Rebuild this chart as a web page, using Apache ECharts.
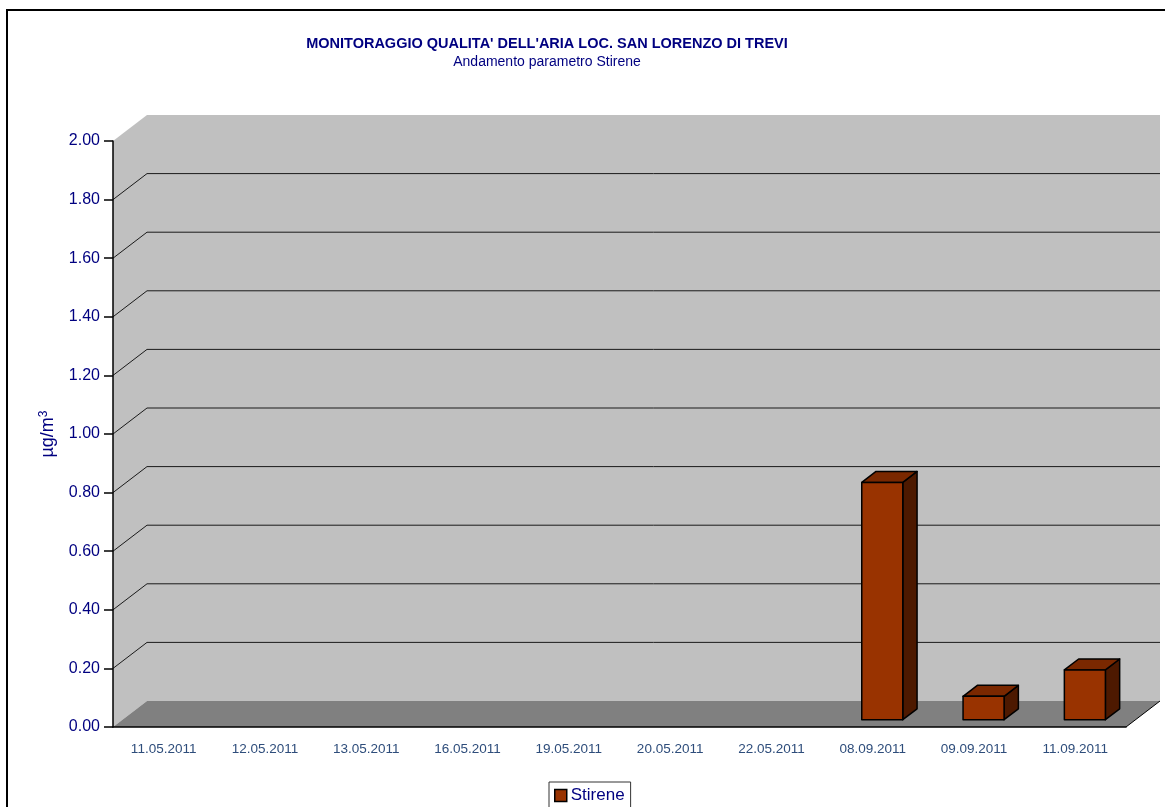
<!DOCTYPE html>
<html>
<head>
<meta charset="utf-8">
<title>Stirene</title>
<script src="https://cdn.jsdelivr.net/npm/echarts@6/dist/echarts.min.js"></script>
<style>
  html, body { margin: 0; padding: 0; background: #fff; }
  #chart { width: 1165px; height: 807px; }
</style>
</head>
<body>
<div id="chart"></div>
<script>
// data
const dates = ['11.05.2011', '12.05.2011', '13.05.2011', '16.05.2011', '19.05.2011',
  '20.05.2011', '22.05.2011', '08.09.2011', '09.09.2011', '11.09.2011']
const stirene = [null, null, null, null, null, null, null, 0.81, 0.08, 0.17]
const gridValues = [0.2, 0.4, 0.6, 0.8, 1.0, 1.2, 1.4, 1.6, 1.8]

// 3d depth of the plot (px)
const DX = 34
const DY = -26
const F1 = 0.28
const F2 = 0.7

const font = 'Liberation Sans, Arial, sans-serif'
const navy = '#000080'

const chart = echarts.init(document.getElementById('chart'))

function wallItem(params, api) {
  const cs = params.coordSys
  const x0 = cs.x, x1 = cs.x + cs.width
  const yT = cs.y, yB = cs.y + cs.height
  return {
    type: 'group',
    children: [
      {
        type: 'rect',
        shape: { x: x0 + DX, y: yT + DY, width: cs.width, height: cs.height },
        style: { fill: '#c0c0c0' }
      },
      {
        type: 'polygon',
        shape: { points: [[x0, yT], [x0 + DX, yT + DY], [x0 + DX, yB + DY], [x0, yB]] },
        style: { fill: '#c0c0c0' }
      },
      {
        type: 'polygon',
        shape: { points: [[x0, yB], [x0 + DX, yB + DY], [x1 + DX, yB + DY], [x1, yB]] },
        style: { fill: '#808080' }
      },
      {
        type: 'line',
        shape: { x1: x1, y1: yB, x2: x1 + DX, y2: yB + DY },
        style: { stroke: '#000', lineWidth: 1 }
      }
    ]
  }
}

function gridItem(params, api) {
  const cs = params.coordSys
  const y = api.coord([0, api.value(0)])[1]
  return {
    type: 'polyline',
    shape: { points: [[cs.x, y], [cs.x + DX, y + DY], [cs.x + cs.width + DX, y + DY]] },
    style: { stroke: '#1a1a1a', lineWidth: 1, fill: null }
  }
}

function barItem(params, api) {
  const v = api.value(1)
  if (v == null || isNaN(v)) return
  const top = api.coord([api.value(0), v])
  const base = api.coord([api.value(0), 0])
  const w = api.size([1, 0])[0] * 0.405
  const L = top[0] - w / 2, R = top[0] + w / 2
  const T = top[1], B = base[1]
  const p = (x, y, f) => [x + f * DX, y + f * DY]
  const stroke = { stroke: '#000', lineWidth: 1.5, lineJoin: 'round' }
  return {
    type: 'group',
    children: [
      {
        type: 'polygon',
        shape: { points: [p(R, T, F1), p(R, T, F2), p(R, B, F2), p(R, B, F1)] },
        style: Object.assign({ fill: '#4d1900' }, stroke)
      },
      {
        type: 'polygon',
        shape: { points: [p(L, T, F1), p(R, T, F1), p(R, T, F2), p(L, T, F2)] },
        style: Object.assign({ fill: '#7a2800' }, stroke)
      },
      {
        type: 'polygon',
        shape: { points: [p(L, T, F1), p(R, T, F1), p(R, B, F1), p(L, B, F1)] },
        style: Object.assign({ fill: '#993300' }, stroke)
      }
    ]
  }
}

const option = {
  backgroundColor: '#fff',
  animation: false,
  title: {
    text: "MONITORAGGIO QUALITA' DELL'ARIA LOC. SAN LORENZO DI TREVI",
    subtext: 'Andamento parametro Stirene',
    left: 542,
    textAlign: 'center',
    top: 31,
    itemGap: 4,
    textStyle: { fontFamily: font, fontSize: 14.5, fontWeight: 'bold', color: navy },
    subtextStyle: { fontFamily: font, fontSize: 14, color: navy }
  },
  legend: {
    data: [{ name: 'Stirene', icon: 'rect' }],
    left: 549,
    top: 782,
    padding: [5, 6, 5, 5],
    itemWidth: 12,
    itemHeight: 12,
    itemGap: 5,
    borderColor: '#333',
    borderWidth: 1,
    borderRadius: 0,
    itemStyle: { color: '#993300', borderColor: '#000', borderWidth: 1.5 },
    textStyle: { fontFamily: font, fontSize: 17, color: navy, padding: [0, 0, 0, -1] }
  },
  grid: { left: 113, right: 39, top: 141, bottom: 80 },
  xAxis: {
    type: 'category',
    data: dates,
    z: 3,
    axisLine: { lineStyle: { color: '#000', width: 1.5 } },
    axisTick: { length: 9, interval: 0, lineStyle: { color: '#000', width: 1.5 } },
    axisLabel: { interval: 0, margin: 15, fontFamily: font, fontSize: 13.5, color: '#2e4d7b' },
    splitLine: { show: false }
  },
  yAxis: {
    type: 'value',
    min: 0,
    max: 2,
    interval: 0.2,
    z: 3,
    name: 'µg/m{s|3}',
    nameLocation: 'middle',
    nameGap: 55,
    nameTextStyle: {
      fontFamily: font,
      fontSize: 18,
      color: navy,
      rich: {
        s: { fontFamily: font, fontSize: 12, color: navy, verticalAlign: 'top', padding: [0, 0, 8, 0] }
      }
    },
    axisLine: { show: true, lineStyle: { color: '#000', width: 1.5 } },
    axisTick: { show: true, length: 9, lineStyle: { color: '#000', width: 1.5 } },
    axisLabel: {
      margin: 13,
      fontFamily: font,
      fontSize: 16,
      color: navy,
      formatter: v => v.toFixed(2)
    },
    splitLine: { show: false }
  },
  graphic: [
    {
      type: 'rect',
      shape: { x: 7, y: 10, width: 1200, height: 900 },
      style: { fill: null, stroke: '#000', lineWidth: 2 },
      z: 100
    }
  ],
  series: [
    {
      type: 'custom',
      name: 'wall',
      z: 1,
      silent: true,
      renderItem: wallItem,
      data: [0]
    },
    {
      type: 'custom',
      name: 'grid',
      z: 2,
      silent: true,
      renderItem: gridItem,
      encode: { y: 0 },
      data: gridValues
    },
    {
      type: 'custom',
      name: 'Stirene',
      z: 4,
      renderItem: barItem,
      itemStyle: { color: '#993300' },
      encode: { x: 0, y: 1 },
      data: dates.map((d, i) => [i, stirene[i]])
    }
  ]
}

chart.setOption(option)
window.addEventListener('resize', () => chart.resize())
</script>
</body>
</html>
